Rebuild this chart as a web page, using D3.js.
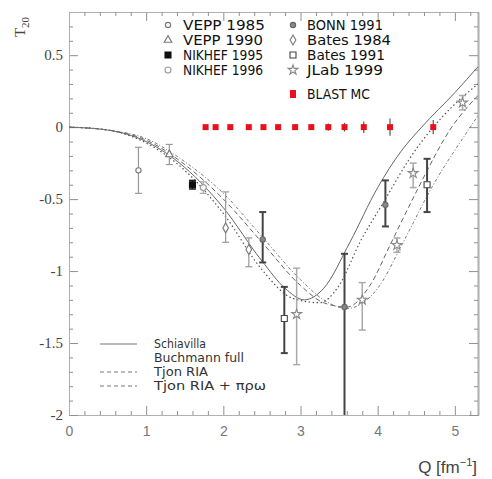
<!DOCTYPE html>
<html><head><meta charset="utf-8">
<script src="https://cdnjs.cloudflare.com/ajax/libs/d3/7.8.5/d3.min.js"></script>
<style>body{margin:0;background:#fff}svg{display:block}</style>
</head><body><svg id="c" width="492" height="479"></svg>
<script>
// ---------- data ----------
// each point: [Q (fm^-1), T20, error up, error down]
const vepp1985   = [[0.90,-0.30,0.16,0.16]];
const vepp1990   = [[1.30,-0.19,0.07,0.07]];
const nikhef1995 = [[1.60,-0.40,0.03,0.03]];
const nikhef1996 = [[1.74,-0.42,0.04,0.04]];
const bonn1991   = [[2.51,-0.78,0.19,0.16],[3.57,-1.25,0.37,0.85],[4.10,-0.54,0.17,0.15]];
const bates1984  = [[2.03,-0.70,0.25,0.10],[2.33,-0.85,0.08,0.12]];
const bates1991  = [[2.79,-1.33,0.22,0.24],[4.64,-0.40,0.18,0.19]];
const jlab1999   = [[2.95,-1.30,0.32,0.35],[3.80,-1.20,0.12,0.21],[4.25,-0.82,0.05,0.05],[4.46,-0.32,0.07,0.10],[5.10,0.17,0.05,0.05]];
const blastQ     = [1.77,1.90,2.09,2.33,2.52,2.71,2.93,3.14,3.36,3.57,3.82,4.16,4.72];
const blastErr   = [0.01,0.01,0.01,0.01,0.015,0.015,0.02,0.02,0.025,0.03,0.04,0.06,0.05];

// theory curves [Q, T20]
const schiavilla = [[0,0],[0.5,-0.02],[1.0,-0.10],[1.5,-0.28],[2.0,-0.56],[2.5,-0.93],[2.8,-1.12],[3.05,-1.20],[3.3,-1.12],[3.64,-0.80],[4.0,-0.42],[4.3,-0.17],[4.57,0],[5.0,0.24],[5.3,0.42]];
const buchmann   = [[0,0],[0.5,-0.02],[1.0,-0.11],[1.5,-0.30],[2.0,-0.60],[2.5,-0.99],[2.9,-1.19],[3.25,-1.22],[3.5,-1.10],[3.77,-0.80],[4.1,-0.50],[4.4,-0.23],[4.72,0],[5.0,0.16],[5.3,0.30]];
const tjonRIA    = [[0,0],[0.5,-0.02],[1.0,-0.09],[1.5,-0.26],[2.0,-0.50],[2.5,-0.80],[3.0,-1.10],[3.3,-1.22],[3.6,-1.25],[3.9,-1.10],[4.16,-0.82],[4.5,-0.45],[4.96,0],[5.3,0.22]];
const tjonRIAmec = [[0,0],[0.5,-0.02],[1.0,-0.08],[1.5,-0.24],[2.0,-0.46],[2.5,-0.76],[3.0,-1.06],[3.3,-1.20],[3.6,-1.26],[4.0,-1.12],[4.33,-0.80],[4.7,-0.42],[5.2,0],[5.3,0.08]];

const xTickLabels = ["0","1","2","3","4","5"];
const yTickLabels = ["-2","-1.5","-1","-0.5","0","0.5"];
const seriesNames = ["VEPP 1985","VEPP 1990","NIKHEF 1995","NIKHEF 1996","BONN 1991","Bates 1984","Bates 1991","JLab 1999","BLAST MC"];
const curveNames  = ["Schiavilla","Buchmann full","Tjon RIA","Tjon RIA + πρω"];

// ---------- drawing ----------
const svg = d3.select("#c");
const x = d3.scaleLinear().domain([0,5.3]).range([69,478]);
const y = d3.scaleLinear().domain([-2,0.8]).range([415,12]);

svg.append("defs").append("clipPath").attr("id","clip")
  .append("rect").attr("x",69).attr("y",12).attr("width",409).attr("height",403);

const xMaj = d3.range(0,5.01,1), xMin = d3.range(0.2,5.3,0.2).filter(v=>Math.abs(v-Math.round(v))>1e-6);
const yMaj = d3.range(-2,0.51,0.5), yMin = d3.range(-1.9,0.8,0.1).filter(v=>Math.abs(v*2-Math.round(v*2))>1e-6);

const ax = svg.append("g");
const bx = ax.append("g").attr("transform","translate(0,415)")
  .call(d3.axisBottom(x).tickValues(xMaj).tickSize(-9).tickFormat((d,i)=>xTickLabels[i]).tickSizeOuter(0));
ax.append("g").attr("transform","translate(0,415)")
  .call(d3.axisBottom(x).tickValues(xMin).tickSize(-4).tickFormat("").tickSizeOuter(0));
ax.append("g").attr("transform","translate(0,12)")
  .call(d3.axisTop(x).tickValues(xMaj).tickSize(-9).tickFormat("").tickSizeOuter(0));
ax.append("g").attr("transform","translate(0,12)")
  .call(d3.axisTop(x).tickValues(xMin).tickSize(-4).tickFormat("").tickSizeOuter(0));
const lx = ax.append("g").attr("transform","translate(69,0)")
  .call(d3.axisLeft(y).tickValues(yMaj).tickSize(-9).tickFormat((d,i)=>yTickLabels[i]).tickSizeOuter(0));
ax.append("g").attr("transform","translate(69,0)")
  .call(d3.axisLeft(y).tickValues(yMin).tickSize(-4).tickFormat("").tickSizeOuter(0));
const rAx = ax.append("g").attr("transform","translate(478,0)")
  .call(d3.axisRight(y).tickValues(yMaj).tickSize(-9).tickFormat("").tickSizeOuter(0));
ax.append("g").attr("transform","translate(478,0)")
  .call(d3.axisRight(y).tickValues(yMin).tickSize(-4).tickFormat("").tickSizeOuter(0));
ax.selectAll("path.domain").attr("stroke","#b0b0b0").attr("stroke-width",1);
ax.selectAll(".tick line").attr("stroke","#909090").attr("stroke-width",1);
rAx.select("path.domain").attr("stroke","#555").attr("stroke-width",1.5);
lx.selectAll(".tick text").attr("font-family","Liberation Serif, DejaVu Serif, serif")
  .attr("font-size",15).attr("fill","#444").attr("dx","-3");
bx.selectAll(".tick text").attr("dy","1.25em").attr("fill","#777")
  .attr("font-family","Liberation Sans, Arial, sans-serif").attr("font-size",14);

// axis titles
const yt = svg.append("text").attr("transform","translate(25,27) rotate(-90)")
  .attr("text-anchor","middle").attr("font-family","Liberation Serif, serif").attr("font-size",15).attr("fill","#444");
yt.append("tspan").text("T");
yt.append("tspan").attr("font-size",11).attr("dy",4).text("20");
const xt = svg.append("text").attr("x",477).attr("y",473).attr("text-anchor","end")
  .attr("font-family","Liberation Sans, Arial, sans-serif").attr("font-size",17).attr("fill","#444");
xt.append("tspan").text("Q [fm");
xt.append("tspan").attr("font-size",11).attr("dy",-7).text("−1");
xt.append("tspan").attr("dy",7).text("]");

// theory curves
const line = d3.line().x(d=>x(d[0])).y(d=>y(d[1])).curve(d3.curveMonotoneX);
const curveStyle = [
  {dash:null, color:"#666", w:1},
  {dash:"1.5,2.5", color:"#555", w:1.2},
  {dash:"5,3", color:"#666", w:1},
  {dash:"3,2,1,2", color:"#777", w:1}
];
const plot = svg.append("g").attr("clip-path","url(#clip)");
[schiavilla,buchmann,tjonRIA,tjonRIAmec].forEach((c,i)=>{
  plot.append("path").attr("d",line(c)).attr("fill","none")
    .attr("stroke",curveStyle[i].color).attr("stroke-width",curveStyle[i].w)
    .attr("stroke-dasharray",curveStyle[i].dash);
});

// data series
const seriesData = [vepp1985,vepp1990,nikhef1995,nikhef1996,bonn1991,bates1984,bates1991,jlab1999];
const seriesStyle = [
  {sym:d3.symbolCircle, size:22, fill:"none", stroke:"#777", bar:"#999", bw:1.2},
  {sym:d3.symbolTriangle, size:25, fill:"none", stroke:"#777", bar:"#999", bw:1.2},
  {sym:d3.symbolSquare, size:36, fill:"#111", stroke:"#111", bar:"#222", bw:1.5},
  {sym:d3.symbolCircle, size:28, fill:"none", stroke:"#999", bar:"#aaa", bw:1.2},
  {sym:d3.symbolCircle, size:22, fill:"#888", stroke:"#666", bar:"#444", bw:2},
  {sym:d3.symbolDiamond, size:28, fill:"none", stroke:"#777", bar:"#999", bw:1.2},
  {sym:d3.symbolSquare, size:36, fill:"#fff", stroke:"#444", bar:"#444", bw:2},
  {sym:d3.symbolStar, size:30, fill:"none", stroke:"#888", bar:"#aaa", bw:1.5}
];
seriesData.forEach((s,i)=>{
  const st = seriesStyle[i];
  const g = plot.append("g");
  s.forEach(p=>{
    const cx = x(p[0]), yt = y(p[1]+p[2]), yb = y(p[1]-p[3]);
    g.append("line").attr("x1",cx).attr("x2",cx).attr("y1",yt).attr("y2",yb)
      .attr("stroke",st.bar).attr("stroke-width",st.bw);
    [yt,yb].forEach(yy=>g.append("line").attr("x1",cx-3.5).attr("x2",cx+3.5).attr("y1",yy).attr("y2",yy)
      .attr("stroke",st.bar).attr("stroke-width",st.bw));
    g.append("path").attr("d",d3.symbol(st.sym,st.size)()).attr("transform",`translate(${cx},${y(p[1])})`)
      .attr("fill",st.fill==="none"?"#fff":st.fill).attr("stroke",st.stroke).attr("stroke-width",1.1);
  });
});

// BLAST MC
const red = "#e8101a";
blastQ.forEach((q,i)=>{
  const cx = x(q), e = blastErr[i];
  if (e>0.012) plot.append("line").attr("x1",cx).attr("x2",cx).attr("y1",y(e)).attr("y2",y(-e))
    .attr("stroke","#555").attr("stroke-width",1.2);
  plot.append("rect").attr("x",cx-3).attr("y",y(0)-3).attr("width",6).attr("height",6).attr("fill",red);
});

// top legend
const legFont = "Liberation Sans Narrow, DejaVu Sans Condensed, Liberation Sans, Arial, sans-serif";
const legItems = [
  {c:0, row:0}, {c:0,row:1}, {c:0,row:2}, {c:0,row:3},
  {c:1,row:0}, {c:1,row:1}, {c:1,row:2}, {c:1,row:3}, {c:1,row:5}
];
const rowY = [25,40,55,70,0,94];
const colSym = [168,293], colTxt = [183,307];
const txtLen = [82,80,80,80,76,84,78,76,63];
const leg = svg.append("g");
legItems.forEach((it,i)=>{
  const yy = rowY[it.row];
  if (i<8) {
    const st = seriesStyle[i];
    leg.append("path").attr("d",d3.symbol(st.sym,st.size)()).attr("transform",`translate(${colSym[it.c]},${yy})`)
      .attr("fill",st.fill==="none"?"#fff":st.fill).attr("stroke",st.stroke).attr("stroke-width",1.1);
  } else {
    leg.append("rect").attr("x",colSym[it.c]-3).attr("y",yy-4).attr("width",6).attr("height",8).attr("fill",red);
  }
  leg.append("text").attr("x",colTxt[it.c]).attr("y",yy+5).text(seriesNames[i])
    .attr("font-family",legFont).attr("font-size",14).attr("fill","#111")
    .attr("textLength",txtLen[i]).attr("lengthAdjust","spacingAndGlyphs");
});

// bottom legend (theory)
const cRowY = [344,358,372,386];
const cTxtLen = [52,90,54,112];
curveNames.forEach((n,i)=>{
  const yy = cRowY[i];
  if (i!==1) leg.append("line").attr("x1",100).attr("x2",137).attr("y1",yy).attr("y2",yy)
    .attr("stroke","#777").attr("stroke-width",1.2).attr("stroke-dasharray",i===0?null:"4,3");
  leg.append("text").attr("x",154).attr("y",yy+4).text(n)
    .attr("font-family",legFont).attr("font-size",12.5).attr("fill","#333")
    .attr("textLength",cTxtLen[i]).attr("lengthAdjust","spacingAndGlyphs");
});
</script></body></html>
